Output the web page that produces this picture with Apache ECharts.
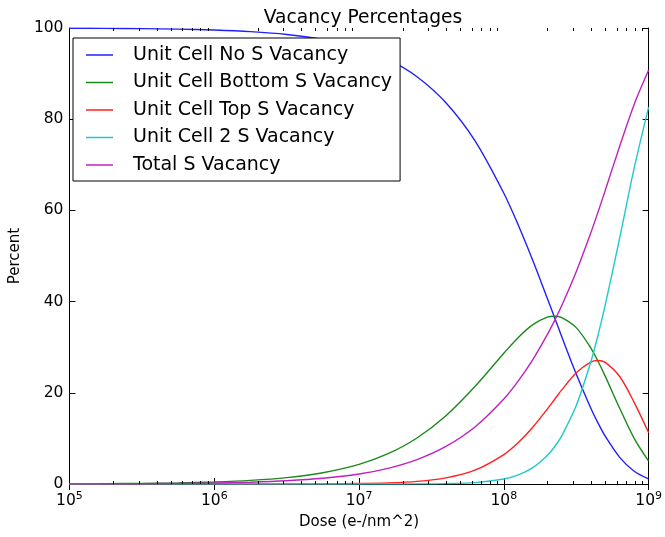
<!DOCTYPE html>
<html>
<head>
<meta charset="utf-8">
<script src="https://cdn.jsdelivr.net/npm/echarts@6/dist/echarts.min.js"></script>
<style>
  html, body { margin: 0; padding: 0; background: #fff; }
  #chart { width: 665px; height: 537px; }
</style>
</head>
<body>
<div id="chart"></div>
<script>
// Dose values (e-/nm^2) sampled along the log axis
var doses = [1e5, 1.778e5, 3.162e5, 5.623e5, 1e6, 1.778e6, 3.162e6, 5.623e6,
  1e7, 1.585e7, 2.512e7, 3.981e7, 6.31e7, 1e8, 1.259e8, 1.585e8, 1.995e8,
  2.239e8, 2.512e8, 3.162e8, 3.981e8, 4.467e8, 5.012e8, 6.31e8, 7.943e8, 1e9];

// Percent of unit cells in each state
var noS = [99.96, 99.92, 99.86, 99.75, 99.55, 99.20, 98.59, 97.50,
  95.60, 93.12, 89.32, 83.60, 75.29, 63.76, 56.75, 49.01, 40.74,
  36.52, 32.30, 24.10, 16.67, 13.40, 10.48, 5.85, 2.80, 1.11];
var bottomS = [0.04, 0.08, 0.14, 0.25, 0.45, 0.79, 1.40, 2.47,
  4.30, 6.64, 10.09, 14.97, 21.37, 28.69, 32.15, 34.95, 36.58,
  36.79, 36.50, 34.29, 29.87, 26.93, 23.65, 16.60, 10.02, 5.00];
var topS = [0, 0, 0, 0, 0, 0, 0.01, 0.03,
  0.10, 0.24, 0.57, 1.34, 3.03, 6.46, 9.11, 12.46, 16.42,
  18.53, 20.63, 24.40, 26.75, 27.07, 26.67, 23.57, 17.91, 11.25];
var twoS = [0, 0, 0, 0, 0, 0, 0, 0,
  0, 0.01, 0.02, 0.08, 0.31, 1.09, 1.99, 3.58, 6.25,
  8.17, 10.57, 17.21, 26.71, 32.60, 39.21, 53.98, 69.26, 82.64];
var totalS = [0.02, 0.04, 0.07, 0.13, 0.23, 0.40, 0.71, 1.25,
  2.20, 3.44, 5.35, 8.24, 12.51, 18.66, 22.62, 27.29, 32.75,
  35.83, 39.14, 46.56, 55.02, 59.60, 64.37, 74.07, 83.23, 90.77];

var seriesNames = ['Unit Cell No S Vacancy', 'Unit Cell Bottom S Vacancy',
  'Unit Cell Top S Vacancy', 'Unit Cell 2 S Vacancy', 'Total S Vacancy'];
var seriesValues = [noS, bottomS, topS, twoS, totalS];
var seriesColors = ['#2020ff', '#1a8a1a', '#ff2020', '#20c8c8', '#c020c0'];

// Minor tick positions (2..9 within each decade)
var minorTicks = [];
[1e5, 1e6, 1e7, 1e8].forEach(function (d) {
  for (var m = 2; m <= 9; m++) minorTicks.push([d * m, 0]);
});

var FONT = 'DejaVu Sans';

function pairs(vals) {
  return doses.map(function (d, i) { return [d, vals[i]]; });
}

var lineSeries = seriesNames.map(function (name, i) {
  return {
    name: name,
    type: 'line',
    xAxisIndex: 0,
    yAxisIndex: 0,
    data: pairs(seriesValues[i]),
    smooth: 0.3,
    symbol: 'none',
    showSymbol: false,
    lineStyle: { color: seriesColors[i], width: 1.4 },
    itemStyle: { color: seriesColors[i] },
    z: 3
  };
});

var chart = echarts.init(document.getElementById('chart'), null, { renderer: 'canvas' });

var expLabel = function (v) {
  var e = Math.round(Math.log10(v));
  return '{b|10}{s|' + e + '}';
};

var axisLineStyle = { show: true, lineStyle: { color: '#000', width: 1 } };

chart.setOption({
  backgroundColor: '#fff',
  animation: false,
  title: {
    text: 'Vacancy Percentages',
    left: 358,
    textAlign: 'center',
    top: 4,
    textStyle: { fontFamily: FONT, fontSize: 18.7, fontWeight: 'normal', color: '#000' }
  },
  legend: {
    orient: 'vertical',
    left: 73,
    top: 38,
    data: seriesNames,
    icon: 'rect',
    itemWidth: 27,
    itemHeight: 1.5,
    itemGap: 7.5,
    padding: [7, 8, 6, 13],
    borderColor: '#000',
    borderWidth: 1,
    backgroundColor: '#fff',
    textStyle: { fontFamily: FONT, fontSize: 19, lineHeight: 20, color: '#000', padding: [0, 0, 0, 15] },
    z: 10
  },
  grid: { left: 64, right: 13, top: 28, bottom: 53 },
  xAxis: [{
    type: 'log',
    logBase: 10,
    min: 1e5,
    max: 1e9,
    position: 'bottom',
    name: 'Dose (e-/nm^2)',
    nameLocation: 'middle',
    nameGap: 31,
    nameTextStyle: { fontFamily: FONT, fontSize: 15, color: '#000' },
    axisLine: axisLineStyle,
    axisTick: { show: true, inside: true, length: 6, lineStyle: { color: '#000' } },
    splitLine: { show: false },
    axisLabel: {
      margin: 7,
      formatter: expLabel,
      rich: {
        b: { fontFamily: FONT, fontSize: 15.5, color: '#000', lineHeight: 18, verticalAlign: 'bottom' },
        s: { fontFamily: FONT, fontSize: 11, color: '#000', lineHeight: 18, verticalAlign: 'top' }
      }
    }
  }, {
    type: 'log',
    logBase: 10,
    min: 1e5,
    max: 1e9,
    position: 'top',
    axisLine: axisLineStyle,
    axisTick: { show: true, inside: true, length: 6, lineStyle: { color: '#000' } },
    splitLine: { show: false },
    axisLabel: { show: false }
  }],
  yAxis: [{
    type: 'value',
    min: 0,
    max: 100,
    interval: 20,
    position: 'left',
    name: 'Percent',
    nameLocation: 'middle',
    nameGap: 43,
    nameRotate: 90,
    nameTextStyle: { fontFamily: FONT, fontSize: 15, color: '#000' },
    axisLine: axisLineStyle,
    axisTick: { show: true, inside: true, length: 6, lineStyle: { color: '#000' } },
    splitLine: { show: false },
    axisLabel: { margin: 6, fontFamily: FONT, fontSize: 15.5, color: '#000' }
  }, {
    type: 'value',
    min: 0,
    max: 100,
    interval: 20,
    position: 'right',
    axisLine: axisLineStyle,
    axisTick: { show: true, inside: true, length: 6, lineStyle: { color: '#000' } },
    splitLine: { show: false },
    axisLabel: { show: false }
  }],
  series: lineSeries.concat([{
    // minor ticks on the log axis, bottom and top edges of the frame
    type: 'custom',
    name: 'minorTicks',
    xAxisIndex: 0,
    yAxisIndex: 0,
    data: minorTicks,
    silent: true,
    clip: false,
    z: 4,
    renderItem: function (params, api) {
      var cs = params.coordSys;
      var p = api.coord([api.value(0), 0]);
      var x = Math.round(p[0]) + 0.5;
      var yb = cs.y + cs.height;
      return {
        type: 'group',
        children: [
          { type: 'line', shape: { x1: x, y1: yb, x2: x, y2: yb - 3 }, style: { stroke: '#000', lineWidth: 1 } },
          { type: 'line', shape: { x1: x, y1: cs.y, x2: x, y2: cs.y + 3 }, style: { stroke: '#000', lineWidth: 1 } }
        ]
      };
    }
  }])
});
</script>
</body>
</html>
